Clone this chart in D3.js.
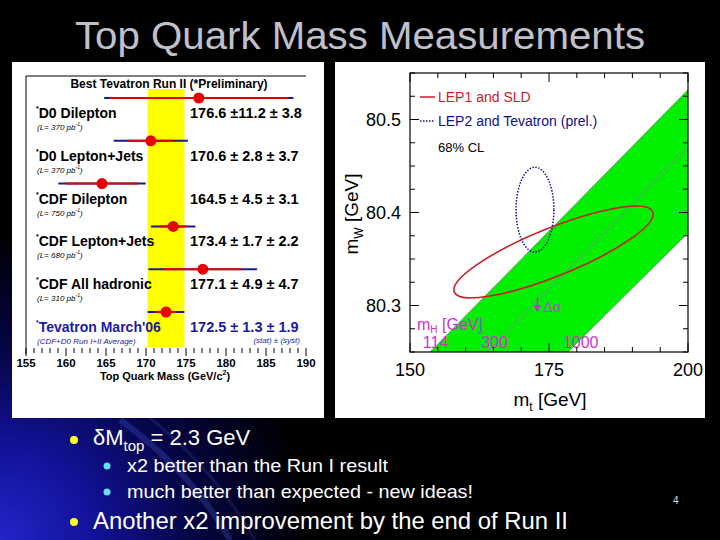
<!DOCTYPE html>
<html>
<head>
<meta charset="utf-8">
<script src="https://cdn.jsdelivr.net/npm/d3@7"></script>
<style>
  body { margin: 0; background: #000; }
  svg { display: block; font-family: Arial, "Liberation Sans", Helvetica, sans-serif; }
</style>
</head>
<body>
<svg id="slide" width="720" height="540"></svg>
<script>
// ---- left plot: top quark mass measurements ----
var rows = ["D0 Dilepton", "D0 Lepton+Jets", "CDF Dilepton", "CDF Lepton+Jets", "CDF All hadronic", "Tevatron March'06"];
var lumi = ["370", "370", "750", "680", "310", null];
var mass = [176.6, 170.6, 164.5, 173.4, 177.1, 172.5];
var statErr = [11.2, 2.8, 4.5, 1.7, 4.9, 1.3];
var systErr = [3.8, 3.7, 3.1, 2.2, 4.7, 1.9];
var massLabels = [155, 160, 165, 170, 175, 180, 185, 190];
var avgBand = [170.2, 174.8];

// ---- right plot: mW vs mt ----
var mtLabels = [150, 175, 200];
var mwLabels = [80.3, 80.4, 80.5];
var mh114 = [[153.6, 80.25], [200, 80.532]];
var mh300 = [[163.9, 80.25], [200, 80.47]];
var mh1000 = [[178.4, 80.25], [200, 80.378]];
var mhNames = ["114", "300", "1000"];
var mhLabelAt = [[152.3, 80.254], [162.8, 80.254], [177.5, 80.254]];
var lep1Axis = [[157.97, 80.3144], [193.65, 80.4006]]; // major axis ends
var lep1Ratio = 0.224;
var lep2Center = [172.48, 80.403];
var lep2Semi = [3.4, 0.0457];
var alphaShift = [[172.9, 80.309], [172.9, 80.294]];

var svg = d3.select("#slide");
var defs = svg.append("defs");

// background
var rg = defs.append("radialGradient").attr("id", "bgglow")
  .attr("gradientUnits", "userSpaceOnUse")
  .attr("cx", 0).attr("cy", 540).attr("r", 310);
rg.append("stop").attr("offset", "0").attr("stop-color", "#2424c8");
rg.append("stop").attr("offset", "0.3").attr("stop-color", "#12129a");
rg.append("stop").attr("offset", "0.62").attr("stop-color", "#050545");
rg.append("stop").attr("offset", "1").attr("stop-color", "#000000");
svg.append("rect").attr("width", 720).attr("height", 540).attr("fill", "#000");
svg.append("rect").attr("width", 720).attr("height", 540).attr("fill", "url(#bgglow)");
// faint streaks
svg.append("path").attr("d", "M120,420 Q190,470 230,540").attr("fill", "none")
  .attr("stroke", "#4a5ad0").attr("stroke-width", 6).attr("opacity", 0.3);
svg.append("path").attr("d", "M150,418 Q215,470 255,540").attr("fill", "none")
  .attr("stroke", "#3a4ab0").attr("stroke-width", 3).attr("opacity", 0.25);

// title
svg.append("text").attr("x", 360).attr("y", 49).attr("text-anchor", "middle")
  .attr("font-size", 38).attr("fill", "#c0c0cc")
  .attr("textLength", 570).attr("lengthAdjust", "spacingAndGlyphs")
  .text("Top Quark Mass Measurements");

// panels
svg.append("rect").attr("x", 12).attr("y", 62).attr("width", 312).attr("height", 356).attr("fill", "#fff");
svg.append("rect").attr("x", 335).attr("y", 62).attr("width", 370).attr("height", 356).attr("fill", "#fff");

// ================= left plot =================
var x1 = d3.scaleLinear().domain([155, 190]).range([26, 306]);
var yRow = d3.scalePoint().domain(rows).range([98, 312]);
var L = svg.append("g");
var navy = "#1a1a8c", red = "#e60000";

L.append("rect").attr("x", x1(avgBand[0])).attr("y", 89)
  .attr("width", x1(avgBand[1]) - x1(avgBand[0])).attr("height", 258).attr("fill", "#ffff00");
L.append("line").attr("x1", 26).attr("x2", 306).attr("y1", 76).attr("y2", 76).attr("stroke", "#000").attr("stroke-width", 1);
L.append("line").attr("x1", 26).attr("x2", 26).attr("y1", 76).attr("y2", 354).attr("stroke", "#000").attr("stroke-width", 1);

L.append("text").attr("x", 169).attr("y", 88).attr("text-anchor", "middle")
  .attr("font-size", 12).attr("font-weight", "bold").text("Best Tevatron Run II (*Preliminary)");

rows.forEach(function(r, i) {
  var y = yRow(r);
  var tot = Math.sqrt(statErr[i] * statErr[i] + systErr[i] * systErr[i]);
  var last = i === rows.length - 1;
  var col = last ? "#1a1aa8" : "#000";
  L.append("line").attr("x1", x1(mass[i] - tot)).attr("x2", x1(mass[i] + tot))
    .attr("y1", y).attr("y2", y).attr("stroke", navy).attr("stroke-width", 2);
  L.append("line").attr("x1", x1(mass[i] - statErr[i])).attr("x2", x1(mass[i] + statErr[i]))
    .attr("y1", y).attr("y2", y).attr("stroke", red).attr("stroke-width", 2);
  L.append("circle").attr("cx", x1(mass[i])).attr("cy", y).attr("r", 5.5).attr("fill", red);

  var t = L.append("text").attr("x", 36).attr("y", y + 20).attr("font-size", 14)
    .attr("font-weight", "bold").attr("fill", col);
  t.append("tspan").attr("font-size", 7).attr("dy", -7).text("*");
  t.append("tspan").attr("dy", 7).text(r);

  L.append("text").attr("x", 190).attr("y", y + 20).attr("font-size", 14.5)
    .attr("font-weight", "bold").attr("fill", col)
    .text(mass[i].toFixed(1) + " \u00b1" + (statErr[i] >= 10 ? "" : " ") + statErr[i].toFixed(1) + " \u00b1 " + systErr[i].toFixed(1));

  var lt = L.append("text").attr("x", 37).attr("y", y + 32).attr("font-size", 8)
    .attr("font-style", "italic").attr("fill", col);
  if (lumi[i]) {
    lt.append("tspan").text("(L= " + lumi[i] + " pb");
    lt.append("tspan").attr("font-size", 5).attr("dy", -4).text("-1");
    lt.append("tspan").attr("dy", 4).text(")");
  } else {
    lt.text("(CDF+D0 Run I+II Average)");
    L.append("text").attr("x", 300).attr("y", y + 31).attr("font-size", 8)
      .attr("font-style", "italic").attr("fill", col).attr("text-anchor", "end")
      .text("(stat)  \u00b1  (syst)");
  }
});

// mass axis ticks
L.selectAll("line.mt").data(d3.range(155, 191)).enter().append("line")
  .attr("x1", function(d) { return x1(d); }).attr("x2", function(d) { return x1(d); })
  .attr("y1", 348).attr("y2", function(d) { return d % 5 === 0 ? 356 : 353; })
  .attr("stroke", "#000").attr("stroke-width", 1);
L.selectAll("text.ml").data(massLabels).enter().append("text")
  .attr("x", function(d) { return x1(d); }).attr("y", 367).attr("text-anchor", "middle")
  .attr("font-size", 11.5).attr("font-weight", "bold").text(function(d) { return d; });
var xl = L.append("text").attr("x", 165).attr("y", 380).attr("text-anchor", "middle")
  .attr("font-size", 11).attr("font-weight", "bold");
xl.append("tspan").text("Top Quark Mass (GeV/c");
xl.append("tspan").attr("font-size", 7).attr("dy", -5).text("2");
xl.append("tspan").attr("dy", 5).text(")");

// ================= right plot =================
var x2 = d3.scaleLinear().domain([150, 200]).range([410, 688]);
var y2 = d3.scaleLinear().domain([80.25, 80.55]).range([352, 73]);
var R = svg.append("g");
defs.append("clipPath").attr("id", "plotclip").append("rect")
  .attr("x", 410).attr("y", 73).attr("width", 278).attr("height", 279);
var P = R.append("g").attr("clip-path", "url(#plotclip)");

var band = mh114.concat(mh1000.slice().reverse());
P.append("path").attr("d", "M" + band.map(function(p) { return x2(p[0]) + "," + y2(p[1]); }).join("L") + "Z")
  .attr("fill", "#00f000").attr("stroke", "#7a9a7a").attr("stroke-width", 1);
P.append("path").attr("d", d3.line().x(function(p) { return x2(p[0]); }).y(function(p) { return y2(p[1]); })(mh300))
  .attr("fill", "none").attr("stroke", "#8080a0").attr("stroke-width", 1);

// LEP2 + Tevatron ellipse
P.append("ellipse").attr("cx", x2(lep2Center[0])).attr("cy", y2(lep2Center[1]))
  .attr("rx", x2(lep2Center[0] + lep2Semi[0]) - x2(lep2Center[0]))
  .attr("ry", y2(lep2Center[1] - lep2Semi[1]) - y2(lep2Center[1]))
  .attr("fill", "none").attr("stroke", "#10108a").attr("stroke-width", 1.5)
  .attr("stroke-dasharray", "1.5,1.5");

// LEP1 + SLD ellipse
var ea = [x2(lep1Axis[0][0]), y2(lep1Axis[0][1])], eb = [x2(lep1Axis[1][0]), y2(lep1Axis[1][1])];
var ecx = (ea[0] + eb[0]) / 2, ecy = (ea[1] + eb[1]) / 2;
var ehalf = Math.hypot(eb[0] - ea[0], eb[1] - ea[1]) / 2;
var eang = Math.atan2(eb[1] - ea[1], eb[0] - ea[0]) * 180 / Math.PI;
P.append("ellipse").attr("cx", 0).attr("cy", 0).attr("rx", ehalf).attr("ry", ehalf * lep1Ratio)
  .attr("transform", "translate(" + ecx + "," + ecy + ") rotate(" + eang + ")")
  .attr("fill", "none").attr("stroke", "#c81e28").attr("stroke-width", 1.6);

// delta alpha arrow
var mag = "#cc33cc";
defs.append("marker").attr("id", "arr").attr("viewBox", "0 0 6 6").attr("refX", 5).attr("refY", 3)
  .attr("markerWidth", 5).attr("markerHeight", 5).attr("orient", "auto")
  .append("path").attr("d", "M0,0L6,3L0,6Z").attr("fill", "#b040c0");
R.append("line").attr("x1", x2(alphaShift[0][0])).attr("x2", x2(alphaShift[1][0]))
  .attr("y1", y2(alphaShift[0][1])).attr("y2", y2(alphaShift[1][1]))
  .attr("stroke", "#b040c0").attr("stroke-width", 1.5).attr("marker-end", "url(#arr)");
R.append("text").attr("x", x2(alphaShift[0][0]) + 6).attr("y", y2(alphaShift[1][1]) + 1)
  .attr("font-size", 14).attr("fill", "#b050c0").text("\u0394\u03b1");

// mH labels
var mhT = R.append("text").attr("x", 417).attr("y", 330).attr("font-size", 16).attr("fill", mag);
mhT.append("tspan").text("m");
mhT.append("tspan").attr("font-size", 10).attr("dy", 3).text("H");
mhT.append("tspan").attr("dy", -3).text(" [GeV]");
R.selectAll("text.mh").data(mhNames).enter().append("text")
  .attr("x", function(d, i) { return x2(mhLabelAt[i][0]); })
  .attr("y", function(d, i) { return y2(mhLabelAt[i][1]); })
  .attr("font-size", 16).attr("fill", mag).text(function(d) { return d; });

// frame
R.append("rect").attr("x", 410).attr("y", 73).attr("width", 278).attr("height", 279)
  .attr("fill", "none").attr("stroke", "#000").attr("stroke-width", 1.2);

// ticks on all four sides
var mtMinor = d3.range(150, 201, 5), mwMinor = d3.range(0, 13).map(function(k) { return 80.25 + k * 0.025; });
mtMinor.forEach(function(v) {
  var len = mtLabels.indexOf(v) >= 0 ? 9 : 5;
  R.append("line").attr("x1", x2(v)).attr("x2", x2(v)).attr("y1", 352).attr("y2", 352 - len).attr("stroke", "#000");
  R.append("line").attr("x1", x2(v)).attr("x2", x2(v)).attr("y1", 73).attr("y2", 73 + len).attr("stroke", "#000");
});
mwMinor.forEach(function(v) {
  var major = mwLabels.some(function(m) { return Math.abs(m - v) < 1e-6; });
  var len = major ? 9 : 5;
  R.append("line").attr("x1", 410).attr("x2", 410 + len).attr("y1", y2(v)).attr("y2", y2(v)).attr("stroke", "#000");
  R.append("line").attr("x1", 688).attr("x2", 688 - len).attr("y1", y2(v)).attr("y2", y2(v)).attr("stroke", "#000");
});
R.selectAll("text.xt").data(mtLabels).enter().append("text")
  .attr("x", function(d) { return x2(d); }).attr("y", 376).attr("text-anchor", "middle")
  .attr("font-size", 18).text(function(d) { return d; });
R.selectAll("text.yt").data(mwLabels).enter().append("text")
  .attr("x", 401).attr("y", function(d) { return y2(d) + 6; }).attr("text-anchor", "end")
  .attr("font-size", 18).text(function(d) { return d.toFixed(1); });

var xt = R.append("text").attr("x", 550).attr("y", 406).attr("text-anchor", "middle").attr("font-size", 19);
xt.append("tspan").text("m");
xt.append("tspan").attr("font-size", 12).attr("dy", 5).text("t");
xt.append("tspan").attr("dy", -5).text("  [GeV]");
var yt = R.append("text").attr("transform", "translate(358,214) rotate(-90)")
  .attr("text-anchor", "middle").attr("font-size", 19);
yt.append("tspan").text("m");
yt.append("tspan").attr("font-size", 12).attr("dy", 5).text("W");
yt.append("tspan").attr("dy", -5).text("  [GeV]");

// legend
R.append("line").attr("x1", 420).attr("x2", 435).attr("y1", 97).attr("y2", 97).attr("stroke", "#c81e28").attr("stroke-width", 1.5);
R.append("text").attr("x", 438).attr("y", 102).attr("font-size", 14).attr("fill", "#c81e28").text("LEP1 and SLD");
R.append("line").attr("x1", 420).attr("x2", 435).attr("y1", 121).attr("y2", 121).attr("stroke", "#10108a")
  .attr("stroke-width", 1.5).attr("stroke-dasharray", "1.5,1.5");
R.append("text").attr("x", 438).attr("y", 126).attr("font-size", 14).attr("fill", "#10108a").text("LEP2 and Tevatron (prel.)");
R.append("text").attr("x", 438).attr("y", 152).attr("font-size", 13).attr("fill", "#000").text("68% CL");

// ================= bullets =================
var B = svg.append("g").attr("fill", "#fff");
B.append("circle").attr("cx", 74).attr("cy", 440).attr("r", 4).attr("fill", "#ffff22");
var b1 = B.append("text").attr("x", 93).attr("y", 445).attr("font-size", 22);
b1.append("tspan").text("\u03b4M");
b1.append("tspan").attr("font-size", 15).attr("dy", 6).text("top");
b1.append("tspan").attr("dy", -6).text(" = 2.3 GeV");

B.append("circle").attr("cx", 107).attr("cy", 466).attr("r", 3.5).attr("fill", "#66e0f0");
B.append("text").attr("x", 127).attr("y", 472).attr("font-size", 19)
  .attr("textLength", 261).attr("lengthAdjust", "spacingAndGlyphs").text("x2 better than the Run I result");
B.append("circle").attr("cx", 107).attr("cy", 492).attr("r", 3.5).attr("fill", "#66e0f0");
B.append("text").attr("x", 127).attr("y", 498).attr("font-size", 19)
  .attr("textLength", 346).attr("lengthAdjust", "spacingAndGlyphs").text("much better than expected - new ideas!");

B.append("circle").attr("cx", 74).attr("cy", 522).attr("r", 4).attr("fill", "#ffff22");
B.append("text").attr("x", 93).attr("y", 529).attr("font-size", 24)
  .attr("textLength", 475).attr("lengthAdjust", "spacingAndGlyphs").text("Another x2 improvement by the end of Run II");

B.append("text").attr("x", 673).attr("y", 504).attr("font-size", 10).attr("fill", "#ddd").text("4");
</script>
</body>
</html>
